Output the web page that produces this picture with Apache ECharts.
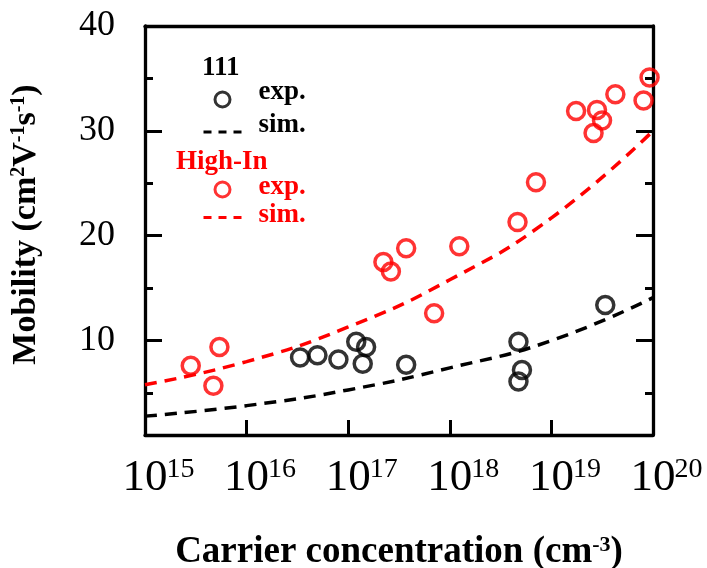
<!DOCTYPE html>
<html>
<head>
<meta charset="utf-8">
<script src="https://cdn.jsdelivr.net/npm/echarts@6/dist/echarts.min.js"></script>
<style>
  html, body { margin: 0; padding: 0; background: #fff; }
  #chart { width: 707px; height: 568px; }
</style>
</head>
<body>
<div id="chart"></div>
<script>
// Hall mobility vs carrier concentration: 111 samples and High-In samples
const exp111Conc = [3.36e16, 4.98e16, 8.01e16, 1.20e17, 1.50e17, 1.39e17, 3.72e17, 4.74e18, 5.13e18, 4.74e18, 3.39e19];
const exp111Mob  = [8.4, 8.6, 8.2, 9.9, 9.4, 7.8, 7.7, 9.9, 7.2, 6.1, 13.4];

const expHighInConc = [2.82e15, 4.71e15, 5.40e15, 2.22e17, 2.63e17, 3.72e17, 7.01e17, 1.24e18, 4.64e18, 7.05e18,
                       1.75e19, 2.81e19, 3.15e19, 2.60e19, 4.26e19, 8.07e19, 9.25e19];
const expHighInMob  = [7.6, 5.7, 9.4, 17.5, 16.6, 18.8, 12.6, 19.0, 21.3, 25.1,
                       31.9, 32.0, 31.0, 29.8, 33.5, 32.9, 35.1];

const simConc      = [1e15, 1e16, 1e17, 1e18, 1e19, 1e20];
const sim111Mob    = [2.8, 3.8, 5.3, 7.4, 10.0, 14.1];
const simHighInMob = [5.8, 8.0, 11.3, 15.8, 21.7, 30.0];

const xTickExponents = [15, 16, 17, 18, 19, 20];
const yMajorTicks = [10, 20, 30, 40];
const yMinorTicks = [5, 15, 25, 35];

const FONT = '"Liberation Serif", "Times New Roman", serif';
const RED = '#ff0000';
const BLACK = '#000000';

const zip = (xs, ys) => xs.map((x, i) => [x, ys[i]]);

const yMin = 1, yMax = 40;
const xMin = Math.pow(10, xTickExponents[0]);
const xMax = Math.pow(10, xTickExponents[xTickExponents.length - 1]);

const axisLineStyle = { color: BLACK, width: 3.3 };

function yAxisDef(position, ticks, len, showLine, showLabel) {
  return {
    type: 'value', min: yMin, max: yMax, position: position,
    axisLine: { show: showLine, lineStyle: axisLineStyle },
    axisTick: { show: true, inside: true, length: len, customValues: ticks,
                lineStyle: { color: BLACK, width: 3 } },
    axisLabel: { show: showLabel, customValues: ticks, margin: 30,
                 fontFamily: FONT, fontSize: 36, color: BLACK },
    splitLine: { show: false }, minorTick: { show: false }
  };
}

const yAxes = [
  yAxisDef('left', yMajorTicks, 17, true, true),
  yAxisDef('left', yMinorTicks, 8, false, false),
  yAxisDef('right', yMajorTicks, 17, true, false),
  yAxisDef('right', yMinorTicks, 8, false, false)
];
yAxes[0].name = '{n|Mobility (cm}{s|2}{n|V}{s|-1}{n|s}{s|-1}{n|)}';
yAxes[0].nameLocation = 'middle';
yAxes[0].nameGap = 102;
yAxes[0].nameTextStyle = {
  fontFamily: FONT, fontWeight: 'bold', color: BLACK,
  padding: [0, 0, 0, 12],
  rich: {
    n: { fontFamily: FONT, fontWeight: 'bold', fontSize: 34, lineHeight: 34, color: BLACK },
    s: { fontFamily: FONT, fontWeight: 'bold', fontSize: 20, lineHeight: 20, verticalAlign: 'top', color: BLACK }
  }
};

const scatterStyle = (c) => ({ color: 'rgba(0,0,0,0)', borderColor: c, borderWidth: 3.5 });
const simLine = (c) => ({ color: c, width: 3.5, type: [12, 8] });

const legendText = (c, lift) => ({
  fontFamily: FONT, fontWeight: 'bold', fontSize: 27, color: c,
  rich: { t: { fontFamily: FONT, fontWeight: 'bold', fontSize: 27, color: c, padding: [0, 0, lift, 12] } }
});

// the simulated curves show only a dashed stroke in the key, no marker
const simKeyItem = (name) => ({
  name: name,
  lineStyle: { type: [8, 7], width: 3 },
  itemStyle: { opacity: 0, color: 'rgba(0,0,0,0)', borderWidth: 0 }
});

const option = {
  animation: false,
  backgroundColor: '#fff',
  grid: { left: 145, right: 54, top: 26, bottom: 133, outerBoundsMode: 'none', containLabel: false },
  xAxis: [
    {
      type: 'log', logBase: 10, min: xMin, max: xMax, position: 'bottom',
      axisLine: { show: true, lineStyle: axisLineStyle },
      axisTick: { show: true, inside: true, length: 15, lineStyle: { color: BLACK, width: 3 } },
      minorTick: { show: false }, splitLine: { show: false },
      axisLabel: {
        margin: 21,
        formatter: (v) => '{sp|}{b|10}{sup|' + Math.round(Math.log10(v)) + '}',
        rich: {
          sp: { width: 26 },
          b: { fontFamily: FONT, fontSize: 45, lineHeight: 45, color: BLACK },
          sup: { fontFamily: FONT, fontSize: 28, lineHeight: 28, verticalAlign: 'top', color: BLACK, width: 26 }
        }
      },
      name: '{n|Carrier concentration (cm}{s|-3}{n|)}',
      nameLocation: 'middle', nameGap: 99,
      nameTextStyle: {
        rich: {
          n: { fontFamily: FONT, fontWeight: 'bold', fontSize: 37, lineHeight: 37, color: BLACK },
          s: { fontFamily: FONT, fontWeight: 'bold', fontSize: 22, lineHeight: 22, verticalAlign: 'top', color: BLACK }
        }
      }
    },
    {
      type: 'log', logBase: 10, min: xMin, max: xMax, position: 'top',
      axisLine: { show: true, lineStyle: axisLineStyle },
      axisTick: { show: false }, axisLabel: { show: false },
      minorTick: { show: false }, splitLine: { show: false }
    }
  ],
  yAxis: yAxes,
  legend: [
    {
      orient: 'vertical', left: 202, top: 79, padding: 0, itemGap: 3,
      itemWidth: 38, itemHeight: 15,
      itemStyle: { borderWidth: 3 },
      data: [ { name: '111 exp.' }, simKeyItem('111 sim.') ],
      formatter: (n) => '{t|' + n.split(' ')[1] + '}',
      textStyle: legendText(BLACK, 14),
      selectedMode: false
    },
    {
      orient: 'vertical', left: 202, top: 174, padding: 0, itemGap: 1,
      itemWidth: 38, itemHeight: 15,
      itemStyle: { borderWidth: 3 },
      data: [ { name: 'High-In exp.' }, simKeyItem('High-In sim.') ],
      formatter: (n) => '{t|' + n.split(' ')[1] + '}',
      textStyle: legendText(RED, 4),
      selectedMode: false
    }
  ],
  graphic: [
    { type: 'text', left: 202, top: 55, style: { text: '111', font: 'bold 27px ' + FONT, fill: BLACK } },
    { type: 'text', left: 176, top: 149, style: { text: 'High-In', font: 'bold 27px ' + FONT, fill: RED } }
  ],
  series: [
    {
      name: '111 sim.', type: 'line', smooth: true, symbol: 'none',
      data: zip(simConc, sim111Mob), lineStyle: simLine(BLACK), itemStyle: { color: BLACK }, z: 2
    },
    {
      name: 'High-In sim.', type: 'line', smooth: true, symbol: 'none',
      data: zip(simConc, simHighInMob), lineStyle: simLine(RED), itemStyle: { color: RED }, z: 2
    },
    {
      name: '111 exp.', type: 'scatter', symbol: 'circle', symbolSize: 17,
      data: zip(exp111Conc, exp111Mob), itemStyle: scatterStyle(BLACK), z: 3
    },
    {
      name: 'High-In exp.', type: 'scatter', symbol: 'circle', symbolSize: 17,
      data: zip(expHighInConc, expHighInMob), itemStyle: scatterStyle(RED), z: 3
    }
  ]
};

const chart = echarts.init(document.getElementById('chart'), null, { renderer: 'canvas' });
chart.setOption(option);
</script>
</body>
</html>
